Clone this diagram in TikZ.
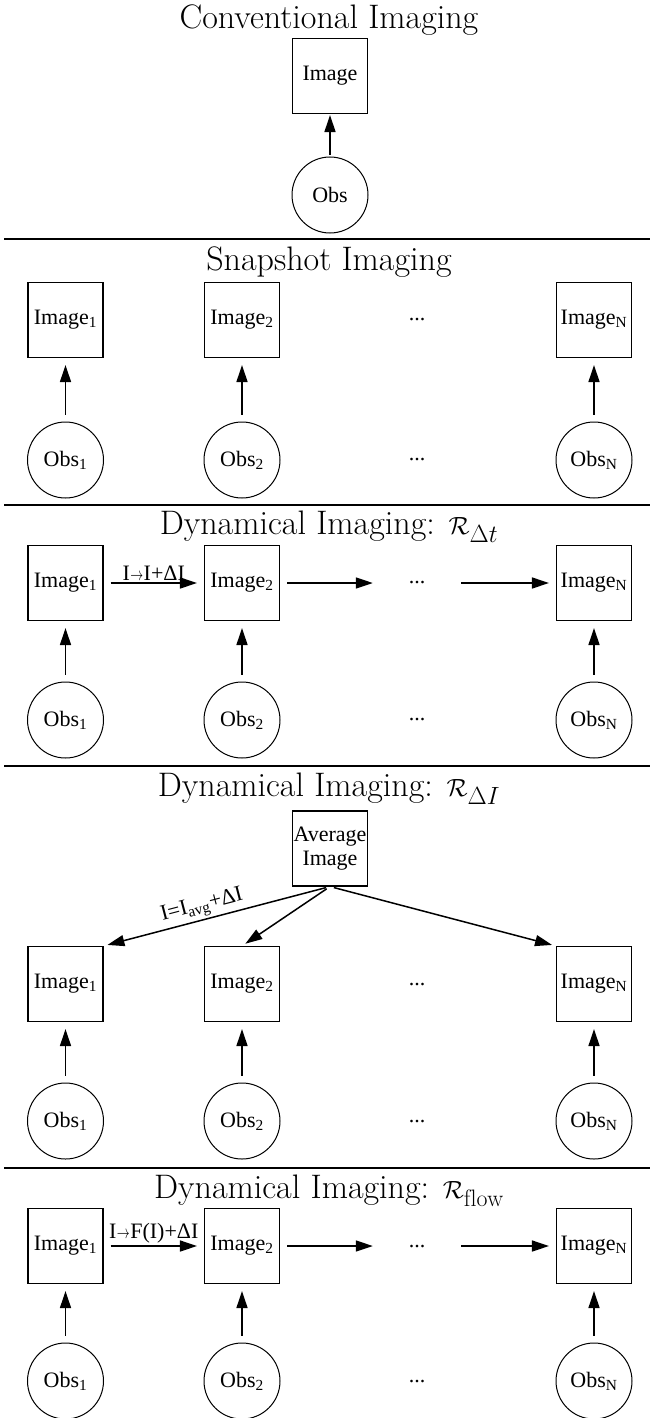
\documentclass[tikz,border=0pt]{standalone}
\usepackage{graphicx}
\usepackage{fontspec}
\newfontfamily\labfont{Liberation Serif}
\newcommand\tarr{\kern0.5pt\scalebox{0.62}[0.9]{$\to$}\kern0.5pt}
\usetikzlibrary{arrows.meta}
\begin{document}
\begin{tikzpicture}[x=1pt,y=-1pt,
  lab/.style={font=\labfont\fontsize{22}{25}\selectfont},
  imgbox/.style={draw, line width=1.1pt, minimum width=75pt, minimum height=75pt, inner sep=0pt, lab},
  obs/.style={draw, circle, line width=1pt, minimum size=76pt, inner sep=0pt, lab},
  dots/.style={lab, minimum width=74pt, inner sep=0pt},
  arr/.style={-{Triangle[length=17pt,width=11pt]}, line width=1.5pt, shorten <=7pt, shorten >=7pt},
  ttl/.style={font=\fontsize{34}{40}\selectfont, anchor=base, inner sep=0pt},
  sep/.style={line width=1.1pt},
  elab/.style={lab, inner sep=2pt}]
\useasboundingbox (0,0) rectangle (652,1418);

% ---------- Section 1 ----------
\node[ttl] (t1) at (329,29) {Conventional Imaging};
\node[imgbox] (i0) at (330,76) {Image};
\node[obs] (o0) at (330,195) {Obs};
\draw[arr, shorten <=2pt, shorten >=1pt] (o0) -- (i0);
\coordinate (l1a) at (4,239); \coordinate (l1b) at (650,239);
\draw[sep] (l1a) -- (l1b);

% ---------- Section 2 ----------
\node[ttl] (t2) at (329,270) {Snapshot Imaging};
\node[imgbox] (sa) at (65.5,320) {Image\textsubscript{1}};
\node[imgbox] (sb) at (242,320) {Image\textsubscript{2}};
\node[dots] (sd) at (417,320) {...};
\node[imgbox] (sn) at (594,320) {Image\textsubscript{N}};
\node[obs] (soa) at (65.5,460) {Obs\textsubscript{1}};
\node[obs] (sob) at (242,460) {Obs\textsubscript{2}};
\node[dots] (sod) at (417,460) {...};
\node[obs] (son) at (594,460) {Obs\textsubscript{N}};
\draw[arr] (soa) -- (sa);
\draw[arr] (sob) -- (sb);
\draw[arr] (son) -- (sn);
\coordinate (l2a) at (4,505); \coordinate (l2b) at (650,505);
\draw[sep] (l2a) -- (l2b);

% ---------- Section 3 ----------
\node[ttl] (t3) at (329,534) {Dynamical Imaging: $\mathcal{R}_{\Delta t}$};
\node[imgbox] (ta) at (65.5,583) {Image\textsubscript{1}};
\node[imgbox] (tb) at (242,583) {Image\textsubscript{2}};
\node[dots] (td) at (417,583) {...};
\node[imgbox] (tn) at (594,583) {Image\textsubscript{N}};
\node[obs] (toa) at (65.5,720) {Obs\textsubscript{1}};
\node[obs] (tob) at (242,720) {Obs\textsubscript{2}};
\node[dots] (tod) at (417,720) {...};
\node[obs] (ton) at (594,720) {Obs\textsubscript{N}};
\draw[arr] (toa) -- (ta);
\draw[arr] (tob) -- (tb);
\draw[arr] (ton) -- (tn);
\draw[arr] (ta) -- node[elab, above] {I\tarr I+ΔI} (tb);
\draw[arr] (tb) -- (td);
\draw[arr] (td) -- (tn);
\coordinate (l3a) at (4,766); \coordinate (l3b) at (650,766);
\draw[sep] (l3a) -- (l3b);

% ---------- Section 4 ----------
\node[ttl] (t4) at (329,796) {Dynamical Imaging: $\mathcal{R}_{\Delta I}$};
\node[imgbox, align=center, font=\labfont\fontsize{22}{24}\selectfont] (avg) at (330,848.5) {Average\\Image};
\node[imgbox] (ua) at (65.5,984) {Image\textsubscript{1}};
\node[imgbox] (ub) at (242,984) {Image\textsubscript{2}};
\node[dots] (ud) at (417,984) {...};
\node[imgbox] (un) at (594,984) {Image\textsubscript{N}};
\node[obs] (uoa) at (65.5,1121) {Obs\textsubscript{1}};
\node[obs] (uob) at (242,1121) {Obs\textsubscript{2}};
\node[dots] (uod) at (417,1121) {...};
\node[obs] (uon) at (594,1121) {Obs\textsubscript{N}};
\draw[arr] (uoa) -- (ua);
\draw[arr] (uob) -- (ub);
\draw[arr] (uon) -- (un);
\draw[arr, shorten <=4pt, shorten >=4pt] (avg.south) -- node[elab, pos=0.55, above, sloped] {I=I\textsubscript{avg}+ΔI} (ua.north east);
\draw[arr, shorten <=4pt, shorten >=4pt] (avg.south) -- (ub.north);
\draw[arr, shorten <=4pt, shorten >=4pt] (avg.south) -- (un.north west);
\coordinate (l4a) at (4,1168); \coordinate (l4b) at (650,1168);
\draw[sep] (l4a) -- (l4b);

% ---------- Section 5 ----------
\node[ttl] (t5) at (329,1198) {Dynamical Imaging: $\mathcal{R}_{\mathrm{flow}}$};
\node[imgbox] (va) at (65.5,1246) {Image\textsubscript{1}};
\node[imgbox] (vb) at (242,1246) {Image\textsubscript{2}};
\node[dots] (vd) at (417,1246) {...};
\node[imgbox] (vn) at (594,1246) {Image\textsubscript{N}};
\node[obs] (voa) at (65.5,1381) {Obs\textsubscript{1}};
\node[obs] (vob) at (242,1381) {Obs\textsubscript{2}};
\node[dots] (vod) at (417,1381) {...};
\node[obs] (von) at (594,1381) {Obs\textsubscript{N}};
\draw[arr] (voa) -- (va);
\draw[arr] (vob) -- (vb);
\draw[arr] (von) -- (vn);
\draw[arr] (va) -- node[elab, above] {I\tarr F(I)+ΔI} (vb);
\draw[arr] (vb) -- (vd);
\draw[arr] (vd) -- (vn);
\end{tikzpicture}
\end{document}
